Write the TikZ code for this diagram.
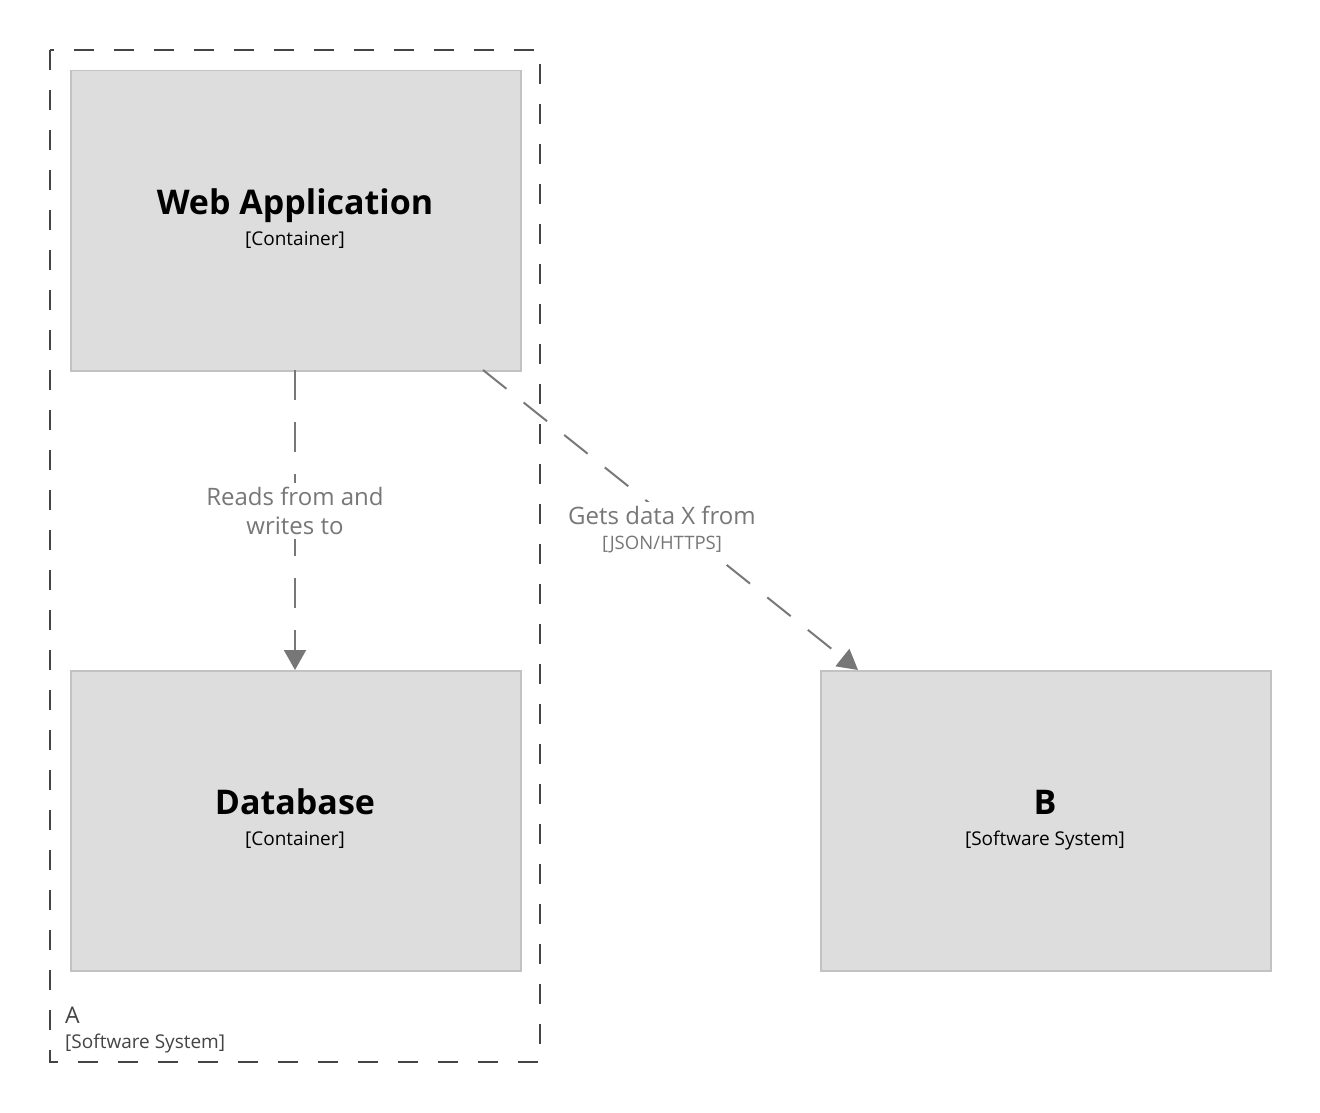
\documentclass[tikz,border=0pt]{standalone}
\usepackage{fontspec}
\setmainfont{Open Sans}
\usetikzlibrary{arrows.meta}
\definecolor{boxfill}{HTML}{DDDDDD}
\definecolor{boxline}{HTML}{C2C2C2}
\definecolor{edge}{HTML}{777777}
\definecolor{bound}{HTML}{444444}
\begin{document}
\begin{tikzpicture}[x=1pt,y=-1pt,
  element/.style={draw=boxline,fill=boxfill,line width=1.5pt,minimum width=450pt,minimum height=300pt,inner sep=0pt,anchor=north west},
  rel/.style={draw=edge,line width=2pt,dash pattern=on 30pt off 22pt,-{Triangle[length=20pt,width=22pt]}},
  reltext/.style={text=edge,font=\fontsize{24}{29}\selectfont,align=center,fill=white,inner sep=4pt},
  reltech/.style={text=edge,font=\fontsize{18.5}{22}\selectfont,fill=white,inner xsep=4pt,inner ysep=7pt},
  title/.style={font=\fontsize{34}{40}\selectfont\bfseries},
  kind/.style={font=\fontsize{19}{22}\selectfont}]
\useasboundingbox (0,0) rectangle (1320,1113);
% software system boundary
\draw[bound,line width=2pt,dash pattern=on 20pt off 20pt] (50,50) rectangle (540,1062);
\node[anchor=base west,text=bound,font=\fontsize{23}{26}\selectfont,inner sep=0pt] (alabel) at (65,1023) {A};
\node[anchor=base west,text=bound,kind,inner sep=0pt] (akind) at (65,1048) {[Software System]};
% elements
\node[element] (web) at (70,70) {};
\node[element] (db) at (70,670) {};
\node[element] (b) at (820,670) {};
\node[title,anchor=base] (webt) at (295,214) {Web Application};
\node[kind,anchor=base] (webk) at (295,245) {[Container]};
\node[title,anchor=base] (dbt) at (295,814) {Database};
\node[kind,anchor=base] (dbk) at (295,845) {[Container]};
\node[title,anchor=base] (bt) at (1045,814) {B};
\node[kind,anchor=base] (bk) at (1045,845) {[Software System]};
% relationships
\coordinate (w1) at (295,370);
\coordinate (d1) at (295,670);
\coordinate (w2) at (483,370);
\coordinate (b1) at (858,670);
\draw[rel] (w1) -- (d1);
\draw[rel] (w2) -- (b1);
\node[reltext] (r1) at (295,511) {Reads from and\\writes to};
\node[reltech] (r2t) at (662,545) {[JSON/HTTPS]};
\node[reltext] (r2) at (662,515) {Gets data X from};
\end{tikzpicture}
\end{document}
